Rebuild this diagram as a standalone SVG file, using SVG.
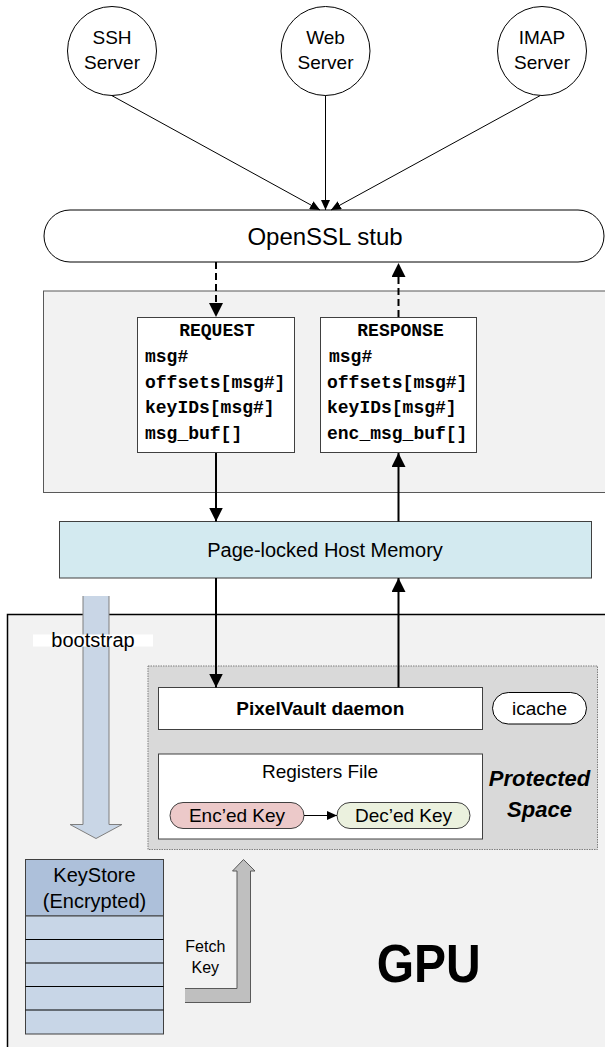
<svg xmlns="http://www.w3.org/2000/svg" width="605" height="1047" viewBox="0 0 605 1047">
<style>
.t{font-family:"Liberation Sans",Arial,sans-serif;fill:#000;text-anchor:middle}
.m{font-family:"Liberation Mono","Courier New",monospace;font-weight:bold;font-size:18px;fill:#000}
.c{fill:#fff;stroke:#000;stroke-width:1}
.box{fill:#fff;stroke:#404040;stroke-width:1}
.thin{stroke:#000;stroke-width:1;fill:none}
.thick{stroke:#000;stroke-width:2;fill:none}
.dash{stroke:#000;stroke-width:2;fill:none;stroke-dasharray:7 4}
</style>
<defs>
<marker id="ah" markerUnits="userSpaceOnUse" markerWidth="14" markerHeight="14" refX="14" refY="7" orient="auto" viewBox="0 0 14 14"><path d="M0,0 L14,7 L0,14 z" fill="#000"/></marker>
<marker id="as" markerUnits="userSpaceOnUse" markerWidth="10" markerHeight="9" refX="10" refY="4.5" orient="auto" viewBox="0 0 10 9"><path d="M0,0 L10,4.5 L0,9 z" fill="#000"/></marker>
</defs>

<rect id="gpu-bg" x="7.5" y="614.5" width="620" height="450" fill="#f2f2f2" stroke="#000" stroke-width="1.5"/>
<rect id="host-bg" x="43.5" y="291" width="570" height="201.5" fill="#f2f2f2" stroke="#595959" stroke-width="1"/>

<g id="ssh"><circle class="c" cx="112" cy="51" r="44.5"/><text class="t" font-size="19" x="112" y="43.5">SSH</text><text class="t" font-size="19" x="112" y="69">Server</text></g>
<g id="web"><circle class="c" cx="325.5" cy="51" r="44.5"/><text class="t" font-size="19" x="325.5" y="43.5">Web</text><text class="t" font-size="19" x="325.5" y="69">Server</text></g>
<g id="imap"><circle class="c" cx="542" cy="51" r="44.5"/><text class="t" font-size="19" x="542" y="43.5">IMAP</text><text class="t" font-size="19" x="542" y="69">Server</text></g>

<g id="openssl"><rect x="44" y="210" width="560" height="52" rx="26" fill="#fff" stroke="#000" stroke-width="1"/><text class="t" font-size="24" x="325" y="245">OpenSSL stub</text></g>

<g id="request"><rect class="box" x="137.5" y="317.5" width="157" height="135"/>
<text class="m" x="217" y="336" text-anchor="middle">REQUEST</text>
<text class="m" x="145" y="362">msg#</text>
<text class="m" x="145" y="388">offsets[msg#]</text>
<text class="m" x="145" y="413">keyIDs[msg#]</text>
<text class="m" x="145" y="439">msg_buf[]</text></g>

<g id="response"><rect class="box" x="320.5" y="317.5" width="156" height="135"/>
<text class="m" x="400.5" y="336" text-anchor="middle">RESPONSE</text>
<text class="m" x="329" y="362">msg#</text>
<text class="m" x="327" y="388">offsets[msg#]</text>
<text class="m" x="327" y="413">keyIDs[msg#]</text>
<text class="m" x="327" y="439">enc_msg_buf[]</text></g>

<g id="hostmem"><rect x="59.5" y="521.5" width="532" height="56.5" fill="#d3eaf0" stroke="#404040" stroke-width="1"/><text class="t" font-size="20" x="325" y="557">Page-locked Host Memory</text></g>

<g id="bootstrap">
<polygon points="83,596 109,596 109,824.5 122,824.5 96,838.5 70,824.5 83,824.5" fill="#c9d6e6"/>
<path d="M83,596 L83,824.5 L70,824.5 L96,838.5 L122,824.5 L109,824.5 L109,596" fill="none" stroke="#7f7f7f" stroke-width="1"/>
<rect x="33" y="634.5" width="120" height="12" fill="#fff"/>
<text class="t" font-size="20" x="93" y="646.5">bootstrap</text>
</g>

<g id="protected"><rect x="148" y="666" width="449.5" height="183.5" fill="#d9d9d9" stroke="#7f7f7f" stroke-width="1" stroke-dasharray="1.5 1"/>
<text class="t" font-size="22" font-weight="bold" font-style="italic" x="539.5" y="786">Protected</text>
<text class="t" font-size="22" font-weight="bold" font-style="italic" x="539.5" y="817">Space</text></g>

<g id="pixelvault"><rect class="box" x="158.5" y="687.5" width="324" height="42"/><text class="t" font-size="19" font-weight="bold" x="320.3" y="715">PixelVault daemon</text></g>

<g id="icache"><rect x="492.5" y="692.5" width="94" height="31.5" rx="15.75" fill="#fff" stroke="#000" stroke-width="1"/><text class="t" font-size="19" x="539.5" y="715">icache</text></g>

<g id="registers"><rect class="box" x="158.5" y="754" width="324" height="85"/><text class="t" font-size="19" x="320" y="778.3">Registers File</text></g>

<g id="enckey"><rect x="170" y="802.5" width="134" height="26" rx="13" fill="#ecc9c9" stroke="#404040" stroke-width="1"/><text class="t" font-size="19" x="237" y="822">Enc’ed Key</text></g>
<g id="deckey"><rect x="337" y="802.5" width="133" height="26" rx="13" fill="#ebf1de" stroke="#404040" stroke-width="1"/><text class="t" font-size="19" x="403.5" y="822">Dec’ed Key</text></g>

<g id="keystore">
<rect x="25.5" y="859.5" width="138" height="56.5" fill="#adc0da" stroke="#404040" stroke-width="1"/>
<rect x="25.5" y="916" width="138" height="118" fill="#c8d6e7" stroke="#404040" stroke-width="1"/>
<path d="M25.5,939.5 H163.5 M25.5,963 H163.5 M25.5,986.5 H163.5 M25.5,1010 H163.5" stroke="#000" stroke-width="1"/>
<text class="t" font-size="20" x="94.5" y="881.7">KeyStore</text>
<text class="t" font-size="20" x="94.5" y="908.3">(Encrypted)</text>
</g>

<g id="fetchkey">
<polygon points="185,988.5 237,988.5 237,871 232.5,871 243.5,859.5 255,871 250.5,871 250.5,1002.5 185,1002.5" fill="#bfbfbf"/>
<path d="M185,988.5 L237,988.5 L237,871 L232.5,871 L243.5,859.5 L255,871 L250.5,871 L250.5,1002.5 L185,1002.5" fill="none" stroke="#595959" stroke-width="1"/>
<text class="t" font-size="16" x="205.3" y="951.7">Fetch</text>
<text class="t" font-size="16" x="205.3" y="973.3">Key</text>
</g>

<g id="gpu-label"><text class="t" font-size="54" font-weight="bold" x="428.7" y="982" textLength="104" lengthAdjust="spacingAndGlyphs">GPU</text></g>

<g id="connectors">
<line class="thin" x1="112" y1="95.7" x2="320" y2="210" marker-end="url(#as)"/>
<line class="thin" x1="325.5" y1="95.5" x2="325.5" y2="210" marker-end="url(#as)"/>
<line class="thin" x1="540" y1="95.7" x2="331" y2="210" marker-end="url(#as)"/>
<line class="dash" x1="216" y1="262" x2="216" y2="317" marker-end="url(#ah)"/>
<line class="dash" x1="398.5" y1="317" x2="398.5" y2="263" marker-end="url(#ah)"/>
<line class="thick" x1="216" y1="453" x2="216" y2="521.5" marker-end="url(#ah)"/>
<line class="thick" x1="398.5" y1="521.5" x2="398.5" y2="453" marker-end="url(#ah)"/>
<line class="thick" x1="216" y1="578" x2="216" y2="687.5" marker-end="url(#ah)"/>
<line class="thick" x1="398.5" y1="687.5" x2="398.5" y2="578" marker-end="url(#ah)"/>
<line class="thin" x1="304" y1="815.5" x2="337" y2="815.5" marker-end="url(#as)"/>
</g>
</svg>
